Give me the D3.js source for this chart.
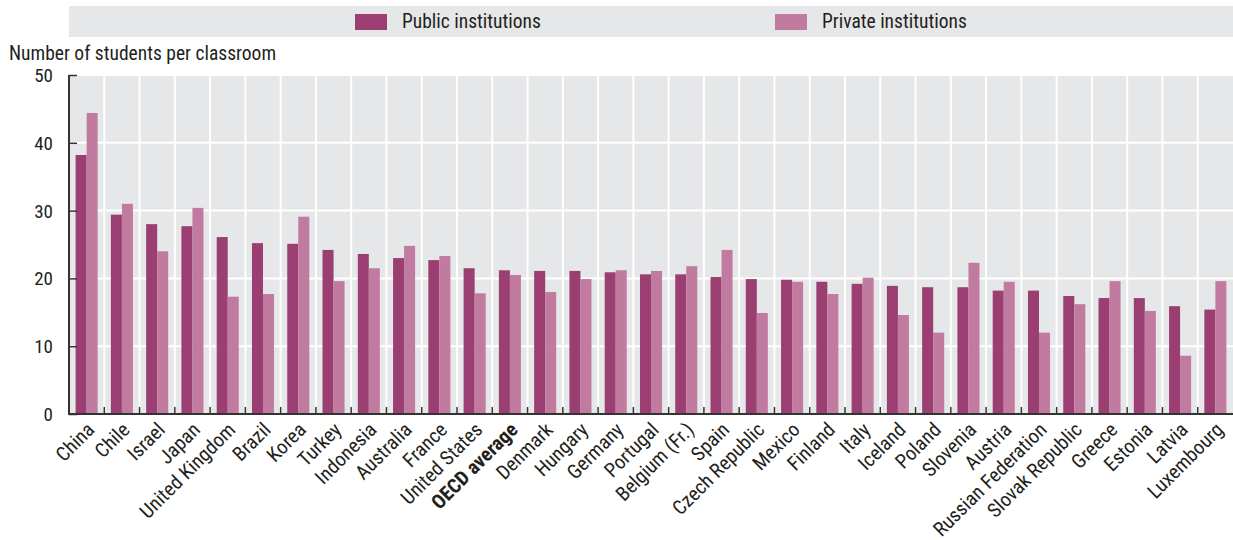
<!DOCTYPE html>
<html><head><meta charset="utf-8">
<script src="https://cdn.jsdelivr.net/npm/d3@7"></script>
<style>
body{margin:0;background:#fff;}
text{font-family:"Liberation Sans Narrow","Arial Narrow","Roboto Condensed","Liberation Sans",sans-serif;fill:#231f20;}
</style></head>
<body><svg id="c" width="1233" height="540"></svg>
<script>
const categories = ["China","Chile","Israel","Japan","United Kingdom","Brazil","Korea","Turkey","Indonesia","Australia","France","United States","OECD average","Denmark","Hungary","Germany","Portugal","Belgium (Fr.)","Spain","Czech Republic","Mexico","Finland","Italy","Iceland","Poland","Slovenia","Austria","Russian Federation","Slovak Republic","Greece","Estonia","Latvia","Luxembourg"];
const publicValues = [38.2,29.4,28.0,27.7,26.1,25.2,25.1,24.2,23.6,23.0,22.7,21.5,21.2,21.1,21.1,20.9,20.6,20.6,20.2,19.9,19.8,19.5,19.2,18.9,18.7,18.7,18.2,18.2,17.4,17.1,17.1,15.9,15.4];
const privateValues = [44.4,31.0,24.0,30.4,17.3,17.7,29.1,19.6,21.5,24.8,23.3,17.8,20.5,18.0,19.9,21.2,21.1,21.8,24.2,14.9,19.5,17.7,20.1,14.6,12.0,22.3,19.5,12.0,16.2,19.6,15.2,8.6,19.6];
const seriesNames = ["Public institutions","Private institutions"];
const yTicks = [0,10,20,30,40,50];
const yTitle = "Number of students per classroom";

const colors = ["#9b3e72","#c27ba0"];
const svg = d3.select("#c");
const L = 69, R = 1233, T = 75, B = 414;

// legend
svg.append("rect").attr("x",L).attr("y",6).attr("width",R-L).attr("height",31).attr("fill","#e6e7e9");
const legX = [355, 775];
seriesNames.forEach((n,i)=>{
  svg.append("rect").attr("x",legX[i]).attr("y",14).attr("width",32).attr("height",16).attr("fill",colors[i]);
  svg.append("text").attr("x",legX[i]+47).attr("y",28).attr("font-size",19.5).text(n);
});

const x = d3.scaleBand().domain(categories).range([L,R]).paddingInner(0).paddingOuter(0);
const x1 = d3.scaleBand().domain([0,1]).range([0,x.bandwidth()]).paddingInner(0).paddingOuter(0.6);
const y = d3.scaleLinear().domain([0,50]).range([B,T]);

svg.append("rect").attr("x",L).attr("y",T).attr("width",R-L).attr("height",B-T).attr("fill","#e6e7e9");
// gridlines
svg.append("g").selectAll("line").data(yTicks.slice(1)).join("line")
  .attr("x1",L).attr("x2",R).attr("y1",d=>y(d)).attr("y2",d=>y(d)).attr("stroke","#fff").attr("stroke-width",2);
svg.append("g").selectAll("line").data(categories.slice(1)).join("line")
  .attr("x1",d=>x(d)).attr("x2",d=>x(d)).attr("y1",T).attr("y2",B).attr("stroke","#fff").attr("stroke-width",2);

// bars
const g = svg.append("g");
categories.forEach((c,i)=>{
  [publicValues[i],privateValues[i]].forEach((v,j)=>{
    g.append("rect").attr("x",x(c)+x1(j)).attr("width",x1.bandwidth())
     .attr("y",y(v)).attr("height",y(0)-y(v)).attr("fill",colors[j]);
  });
});

// y axis
const ya = svg.append("g").attr("transform",`translate(${L},0)`)
  .call(d3.axisRight(y).tickValues(yTicks).tickSize(8).tickFormat(""));
ya.select(".domain").remove();
ya.selectAll("line").attr("stroke","#333").attr("stroke-width",1.5);
svg.append("g").selectAll("text").data(yTicks).join("text")
  .attr("x",53).attr("y",d=>y(d)+7).attr("text-anchor","end").attr("font-size",19).text(d=>d);
svg.append("line").attr("x1",L).attr("x2",L).attr("y1",T).attr("y2",B+1).attr("stroke","#333").attr("stroke-width",2);
svg.append("text").attr("x",9).attr("y",60).attr("font-size",19.5).text(yTitle);

// x axis
svg.append("g").selectAll("line").data(categories.slice(1)).join("line")
  .attr("x1",d=>x(d)).attr("x2",d=>x(d)).attr("y1",B).attr("y2",B-7).attr("stroke","#333").attr("stroke-width",1.5);
svg.append("line").attr("x1",L).attr("x2",R).attr("y1",B).attr("y2",B).attr("stroke","#333").attr("stroke-width",2);
svg.append("g").selectAll("text").data(categories).join("text")
  .attr("transform",d=>`translate(${x(d)+x.bandwidth()/2+9},${B+17}) rotate(-45)`)
  .attr("text-anchor","end").attr("font-size",20)
  .attr("font-weight",d=>d==="OECD average"?"bold":"normal")
  .text(d=>d);
</script></body></html>
